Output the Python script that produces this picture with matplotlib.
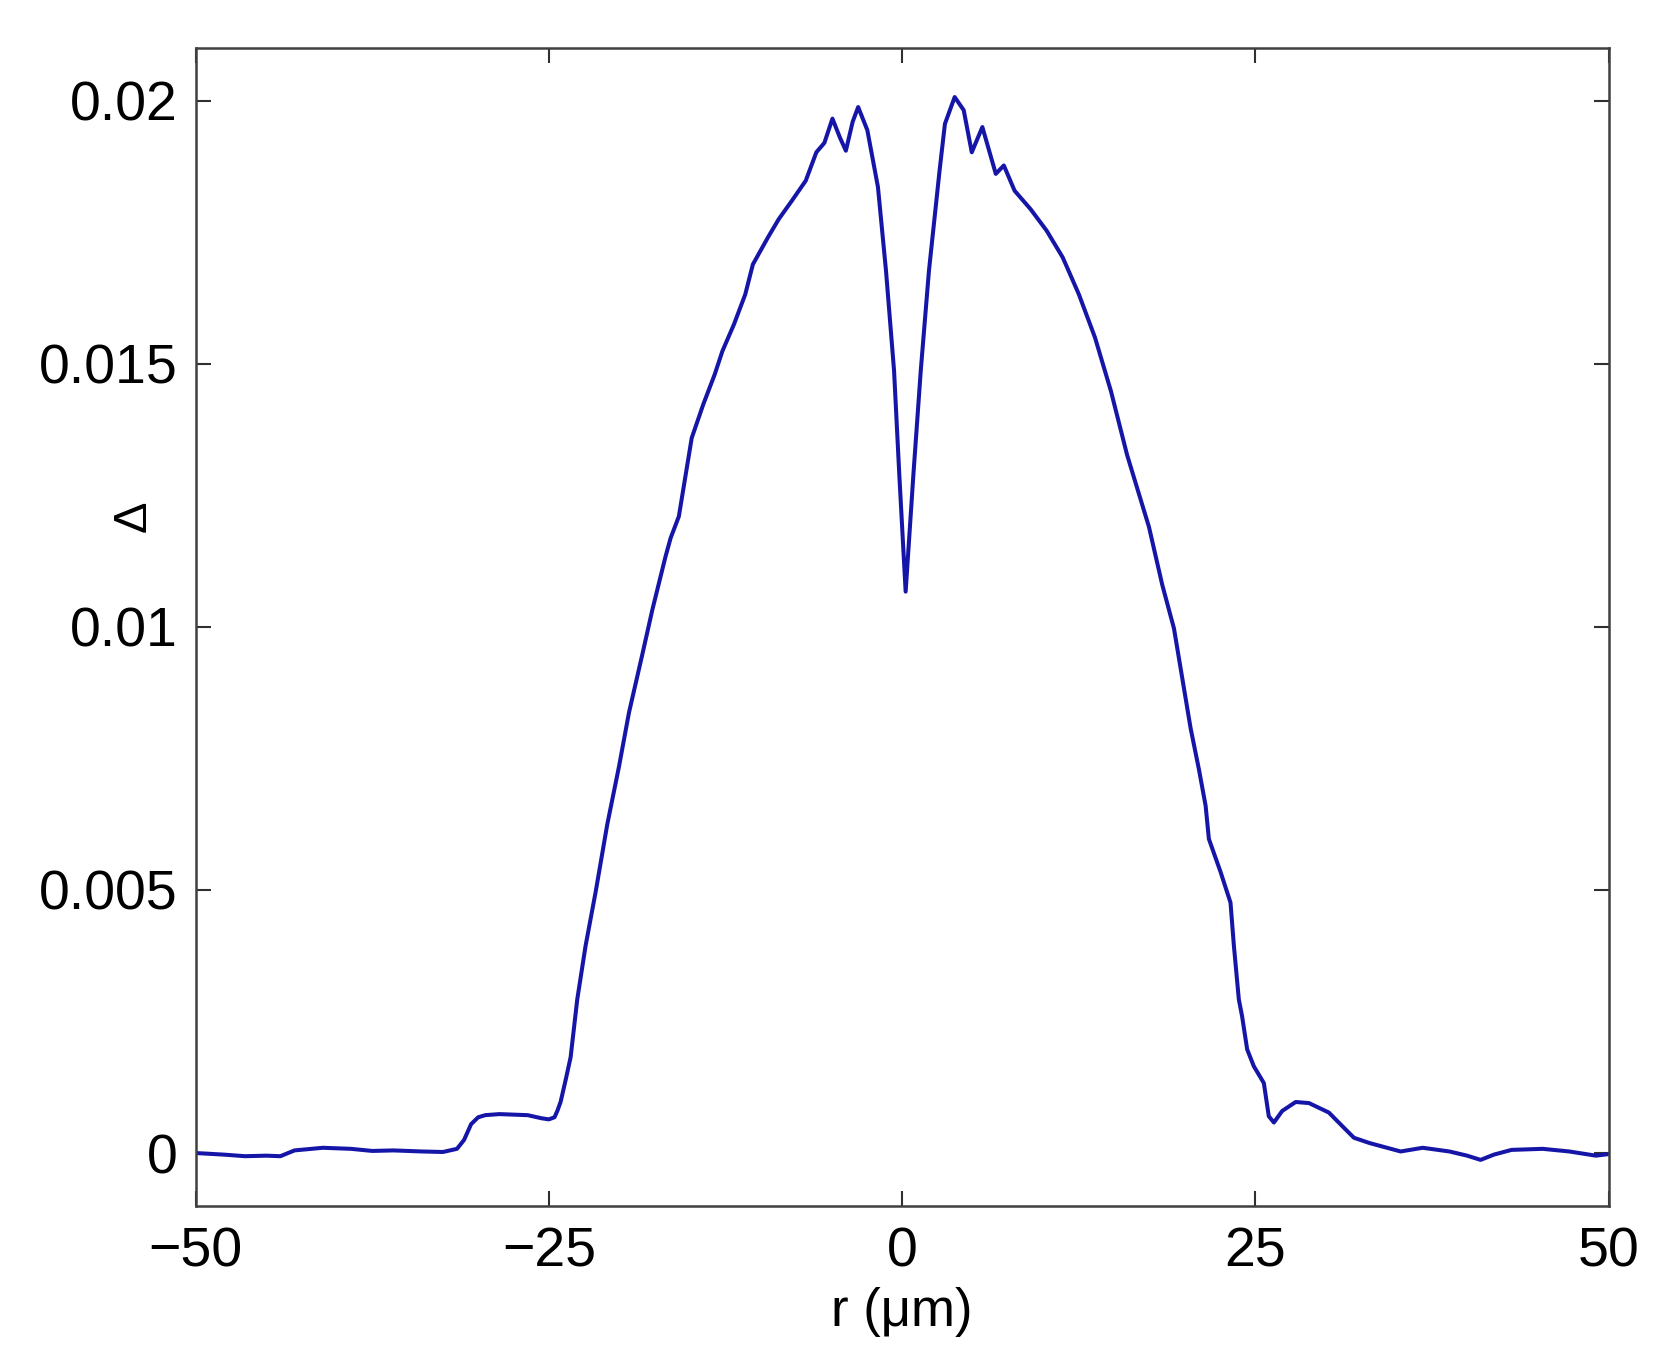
import numpy as np
import matplotlib
matplotlib.use("Agg")
import matplotlib.pyplot as plt

plt.rcParams['font.family'] = ['Liberation Sans', 'DejaVu Sans']

# radial position (um) and index difference
r_um = [-50, -48, -46.5, -45, -44, -43, -41, -39, -37.5, -36, -34, -32.5,
        -31.5, -31, -30.5, -30, -29.5, -28.5, -27.5, -26.5, -25.5, -25.0,
        -24.6, -24.4, -24.17, -23.81, -23.46, -22.99, -22.40, -21.69, -20.87,
        -20.04, -19.33, -18.39, -17.68, -16.74, -16.38, -15.8, -14.89, -14.07,
        -13.26, -12.72, -11.90, -11.10, -10.56, -9.5, -8.73, -7.8, -6.82,
        -6.07, -5.5, -4.93, -4.4, -3.98, -3.5, -3.11, -2.46, -1.71, -1.14,
        -0.57, -0.2, 0.25, 0.8, 1.32, 1.90, 2.65, 3.03, 3.72, 4.36, 4.93,
        5.68, 6.63, 7.20, 7.96, 9.09, 10.23, 11.37, 12.51, 13.65, 14.78,
        15.92, 17.47, 18.41, 19.24, 19.83, 20.42, 21.0, 21.48, 21.71, 22.54,
        23.24, 23.48, 23.83, 24.06, 24.42, 24.89, 25.60, 25.95, 26.31, 26.90,
        27.85, 28.79, 30.2, 31.38, 31.98, 33.08, 35.28, 36.84, 38.73, 39.99,
        40.94, 41.88, 43.13, 45.33, 47.21, 49.1, 50]
delta_e3 = [0.0, -0.03, -0.06, -0.05, -0.06, 0.05, 0.10, 0.08, 0.04, 0.05,
            0.03, 0.02, 0.08, 0.25, 0.55, 0.68, 0.72, 0.74, 0.73, 0.72, 0.66,
            0.64, 0.68, 0.80, 0.97, 1.39, 1.82, 2.92, 3.94, 4.96, 6.24, 7.34,
            8.37, 9.47, 10.32, 11.34, 11.69, 12.1, 13.59, 14.23, 14.80, 15.24,
            15.75, 16.32, 16.89, 17.4, 17.75, 18.1, 18.48, 19.02, 19.2, 19.66,
            19.3, 19.05, 19.6, 19.88, 19.44, 18.36, 16.77, 14.87, 12.9, 10.67,
            12.9, 14.87, 16.77, 18.67, 19.56, 20.07, 19.82, 19.02, 19.50,
            18.61, 18.77, 18.29, 17.94, 17.53, 17.02, 16.32, 15.50, 14.48,
            13.27, 11.9, 10.80, 9.97, 9.02, 8.07, 7.30, 6.60, 5.97, 5.34, 4.76,
            3.94, 2.92, 2.60, 1.97, 1.65, 1.33, 0.70, 0.58, 0.80, 0.97, 0.95,
            0.77, 0.45, 0.29, 0.19, 0.03, 0.10, 0.03, -0.05, -0.13, -0.03,
            0.06, 0.08, 0.03, -0.05, -0.02]

xticks = [-50, -25, 0, 25, 50]
yticks = [0, 0.005, 0.01, 0.015, 0.02]
ytick_labels = ['0', '0.005', '0.01', '0.015', '0.02']

delta = np.array(delta_e3) * 1e-3

fig = plt.figure(figsize=(16.76, 13.71), dpi=100)
ax = fig.add_axes([0.1167, 0.1206, 0.8431, 0.8443])

ax.plot(r_um, delta, color='#1515a8', lw=2.9)

ax.set_xlim(-50, 50)
ax.set_ylim(-0.001, 0.021)
ax.set_xticks(xticks)
ax.set_yticks(yticks)
ax.set_yticklabels(ytick_labels)

ax.tick_params(direction='in', length=11, width=1.5, colors='#303030',
               labelcolor='black', labelsize=40, top=True, right=True)
ax.tick_params(axis='y', pad=13)
ax.tick_params(axis='x', pad=15)
for s in ax.spines.values():
    s.set_color('#404040')
    s.set_linewidth(1.8)

ax.set_xlabel('r (μm)', fontsize=38, labelpad=6)
ax.set_ylabel('Δ', fontsize=34)
ax.yaxis.set_label_coords(-0.028, 0.596)

fig.savefig('out.png', dpi=100)
